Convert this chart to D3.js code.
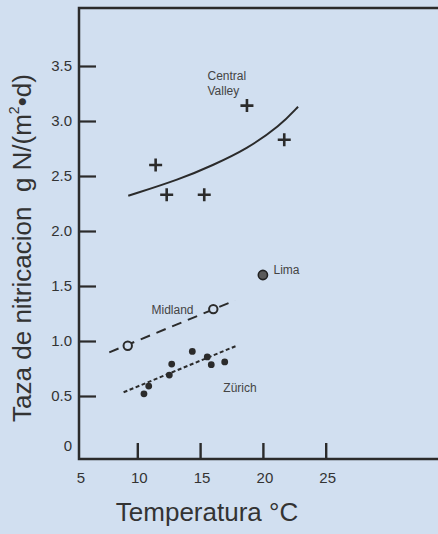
<!DOCTYPE html>
<html>
<head>
<meta charset="utf-8">
<script src="https://cdn.jsdelivr.net/npm/d3@7"></script>
<style>
  body { margin: 0; background: #d1dff0; }
  svg { display: block; font-family: "Liberation Sans", Arial, sans-serif; }
  .tickLabel { fill: #333; font-size: 15px; }
  .siteName { fill: #444; font-size: 12px; }
  .axisTitle { fill: #333; font-size: 26px; }
</style>
</head>
<body>
<script>
// data
var xTicks = [10, 15, 20, 25];
var xTickLabels = ["5", "10", "15", "20", "25"];
var yTicks = [0.5, 1.0, 1.5, 2.0, 2.5, 3.0, 3.5];
var yTickLabels = ["0", "0.5", "1.0", "1.5", "2.0", "2.5", "3.0", "3.5"];

var centralValley = [[11.46, 2.60], [12.34, 2.33], [15.33, 2.33], [18.73, 3.14], [21.70, 2.83]];
var centralValleyFit = [[9.28, 2.32], [13.4, 2.47], [16.05, 2.60], [18.71, 2.745], [21.36, 2.955], [22.8, 3.13]];
var lima = [[20.0, 1.60]];
var midland = [[9.24, 0.957], [16.05, 1.29]];
var midlandFit = [[7.77, 0.897], [17.78, 1.369]];
var zurich = [[10.53, 0.52], [10.91, 0.59], [12.55, 0.69], [12.74, 0.79], [14.38, 0.905],
              [15.57, 0.855], [15.89, 0.785], [16.96, 0.81]];
var zurichFit = [[8.91, 0.534], [17.91, 0.957]];

var _width = 438;
var _height = 534;
var _ink = "#2b2b2b";

var _xScale = d3.scaleLinear().domain([10, 25]).range([137.3, 325.7]);
var _yScale = d3.scaleLinear().domain([0, 3.5]).range([451, 66]);

var plotLeft = 79, plotTop = 8, plotBottom = 459;

var svg = d3.select(document.body)
    .append("svg")
    .attr("width", _width)
    .attr("height", _height);

svg.append("rect")
    .attr("width", _width)
    .attr("height", _height)
    .attr("fill", "#d1dff0");

// frame: top, left, bottom
svg.append("path")
    .attr("d", "M" + _width + "," + plotTop + "H" + plotLeft + "V" + plotBottom + "H" + _width)
    .attr("fill", "none")
    .attr("stroke", _ink)
    .attr("stroke-width", 2.5);

// y ticks, pointing inward
var yAxis = d3.axisRight(_yScale)
    .tickValues(yTicks)
    .tickSize(17)
    .tickFormat("");
var yg = svg.append("g")
    .attr("transform", "translate(" + plotLeft + ",0)")
    .call(yAxis);
yg.select(".domain").remove();
yg.selectAll(".tick line").attr("stroke", _ink).attr("stroke-width", 2.2);

svg.append("g").selectAll("text")
    .data(yTickLabels)
    .enter()
    .append("text")
    .attr("class", "tickLabel")
    .attr("text-anchor", "end")
    .attr("x", 72)
    .attr("y", function(d) { return _yScale(+d) + 5; })
    .attr("dy", function(d) { return d === "0" ? -5 : 0; })
    .text(function(d) { return d; });

// x ticks, pointing up from the bottom line
var xAxis = d3.axisTop(_xScale)
    .tickValues(xTicks)
    .tickSize(16)
    .tickFormat("");
var xg = svg.append("g")
    .attr("transform", "translate(0," + plotBottom + ")")
    .call(xAxis);
xg.select(".domain").remove();
xg.selectAll(".tick line").attr("stroke", _ink).attr("stroke-width", 2.4);

svg.append("g").selectAll("text")
    .data(xTickLabels)
    .enter()
    .append("text")
    .attr("class", "tickLabel")
    .attr("text-anchor", "middle")
    .attr("x", function(d) { return d === "5" ? 81 : _xScale(+d) + 2; })
    .attr("y", 483)
    .text(function(d) { return d; });

// axis titles
svg.append("text")
    .attr("class", "axisTitle")
    .attr("text-anchor", "middle")
    .attr("x", 207)
    .attr("y", 521)
    .text("Temperatura °C");

var yTitle = svg.append("text")
    .attr("class", "axisTitle")
    .attr("text-anchor", "middle")
    .attr("transform", "translate(31,248) rotate(-90)");
yTitle.append("tspan").text("Taza de nitricacion\u00a0\u00a0g N/(m");
yTitle.append("tspan").attr("font-size", "14px").attr("dy", -12).text("2");
yTitle.append("tspan").attr("dy", 12).text("\u2022d)");

var line = d3.line()
    .x(function(d) { return _xScale(d[0]); })
    .y(function(d) { return _yScale(d[1]); });

// fitted lines
svg.append("path")
    .attr("d", line.curve(d3.curveBasis)(centralValleyFit))
    .attr("fill", "none")
    .attr("stroke", _ink)
    .attr("stroke-width", 2);

line.curve(d3.curveLinear);

svg.append("path")
    .attr("d", line(midlandFit))
    .attr("fill", "none")
    .attr("stroke", _ink)
    .attr("stroke-width", 2)
    .attr("stroke-dasharray", "10,7");

svg.append("path")
    .attr("d", line(zurichFit))
    .attr("fill", "none")
    .attr("stroke", _ink)
    .attr("stroke-width", 2)
    .attr("stroke-dasharray", "4,2.5");

// Central Valley crosses
svg.append("g").selectAll("path")
    .data(centralValley)
    .enter()
    .append("path")
    .attr("transform", function(d) {
      return "translate(" + _xScale(d[0]) + "," + _yScale(d[1]) + ")";
    })
    .attr("d", "M-6.5,0H6.5M0,-6.5V6.5")
    .attr("stroke", _ink)
    .attr("stroke-width", 2.6);

// Zürich dots
svg.append("g").selectAll("circle")
    .data(zurich)
    .enter()
    .append("circle")
    .attr("cx", function(d) { return _xScale(d[0]); })
    .attr("cy", function(d) { return _yScale(d[1]); })
    .attr("r", 3.4)
    .attr("fill", _ink);

// Midland open circles
svg.append("g").selectAll("circle")
    .data(midland)
    .enter()
    .append("circle")
    .attr("cx", function(d) { return _xScale(d[0]); })
    .attr("cy", function(d) { return _yScale(d[1]); })
    .attr("r", 4.2)
    .attr("fill", "#d1dff0")
    .attr("stroke", _ink)
    .attr("stroke-width", 2);

// Lima
svg.append("g").selectAll("circle")
    .data(lima)
    .enter()
    .append("circle")
    .attr("cx", function(d) { return _xScale(d[0]); })
    .attr("cy", function(d) { return _yScale(d[1]); })
    .attr("r", 4.6)
    .attr("fill", "#5a5a5a")
    .attr("stroke", "#222")
    .attr("stroke-width", 1.6);

// site names
var names = [
  {text: "Central", x: 207.5, y: 80, anchor: "start"},
  {text: "Valley", x: 207.5, y: 95, anchor: "start"},
  {text: "Lima", x: 273.5, y: 274, anchor: "start"},
  {text: "Midland", x: 193.5, y: 314, anchor: "end"},
  {text: "Zürich", x: 223.3, y: 392, anchor: "start"}
];
svg.append("g").selectAll("text")
    .data(names)
    .enter()
    .append("text")
    .attr("class", "siteName")
    .attr("text-anchor", function(d) { return d.anchor; })
    .attr("x", function(d) { return d.x; })
    .attr("y", function(d) { return d.y; })
    .text(function(d) { return d.text; });
</script>
</body>
</html>
